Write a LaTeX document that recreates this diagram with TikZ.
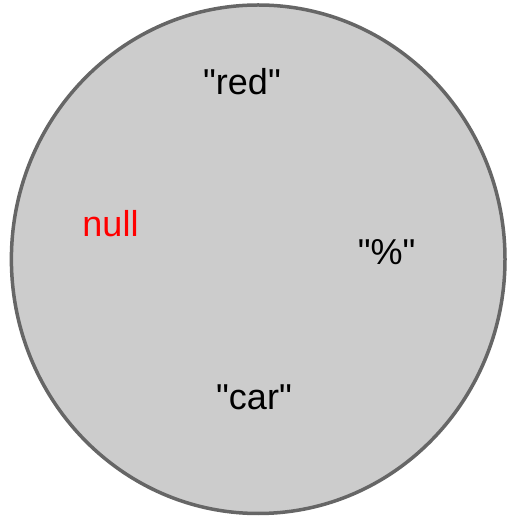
\documentclass[tikz,border=0pt]{standalone}
\usepackage{fontspec}
\setmainfont{Liberation Sans}
\definecolor{setfill}{HTML}{CCCCCC}
\definecolor{setedge}{HTML}{666666}
\definecolor{nullred}{HTML}{FF0000}
\newcommand{\sq}{\textquotedbl}
\begin{document}
\begin{tikzpicture}[x=1pt,y=1pt,
  member/.style={font=\fontsize{36}{40}\selectfont, anchor=base, inner sep=0pt},
  setshape/.style={draw=setedge, fill=setfill, line width=3.5pt}]
  \useasboundingbox (0,0) rectangle (508,517);
  % the set drawn as an ellipse
  \draw[setshape] (258.2,257.75) ellipse [x radius=246.8, y radius=254.25];
  % its members
  \node[member] (red) at (242,422) {\sq red\sq};
  \node[member, text=nullred] (null) at (110.5,280.3) {null};
  \node[member] (pct) at (386.7,252) {\sq\%\sq};
  \node[member] (car) at (254,107) {\sq car\sq};
\end{tikzpicture}
\end{document}
